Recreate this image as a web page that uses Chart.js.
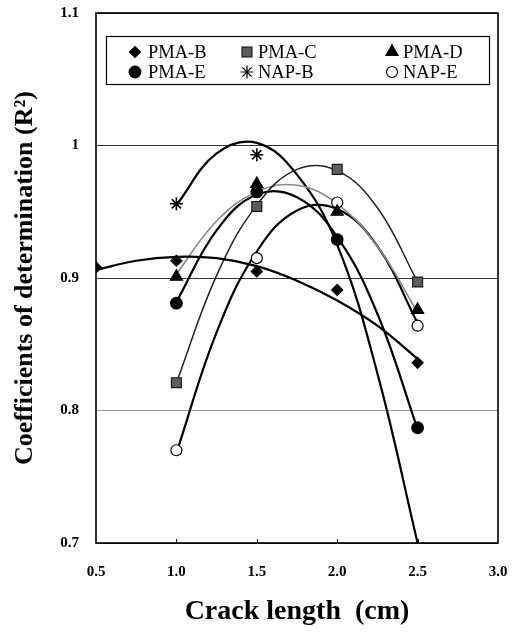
<!DOCTYPE html>
<html>
<head>
<meta charset="utf-8">
<script src="https://cdn.jsdelivr.net/npm/chart.js"></script>
<style>
  html, body { margin: 0; padding: 0; background: #fff; }
</style>
</head>
<body>
<canvas id="grafico" width="517" height="633"></canvas>
<script>
// measured points (crack length in cm, R2)
const crackB = [0.5, 1.0, 1.5, 2.0, 2.5]
const crack = [1.0, 1.5, 2.0, 2.5]
const crackNapB = [1.0, 1.5]

const pmaB = [0.908, 0.913, 0.905, 0.891, 0.836]
const pmaC = [0.821, 0.954, 0.982, 0.897]
const pmaD = [0.901, 0.971, 0.950, 0.876]
const pmaE = [0.881, 0.965, 0.929, 0.787]
const napB = [0.956, 0.993]
const napE = [0.770, 0.915, 0.957, 0.864]

// trend curves, every 0.25 cm
const trendXB = [0.5, 0.75, 1.0, 1.25, 1.5, 1.75, 2.0, 2.25, 2.5]
const trendX = [1.0, 1.25, 1.5, 1.75, 2.0, 2.25, 2.5]

const trendPmaB = [0.906, 0.913, 0.916, 0.915, 0.909, 0.898, 0.883, 0.864, 0.839]
const trendPmaC = [0.821, 0.902, 0.955, 0.982, 0.981, 0.953, 0.897]
const trendPmaD = [0.903, 0.943, 0.965, 0.970, 0.956, 0.924, 0.874]
const trendPmaE = [0.882, 0.936, 0.963, 0.961, 0.931, 0.873, 0.786]
const trendNapB = [0.955, 0.994, 1.002, 0.978, 0.925, 0.828, 0.700]
const trendNapE = [0.768, 0.859, 0.920, 0.951, 0.952, 0.924, 0.866]

const xTicks = [0.5, 1.0, 1.5, 2.0, 2.5, 3.0]
const yTicks = [0.7, 0.8, 0.9, 1.0, 1.1]

const serif = "'Liberation Serif', 'Times New Roman', serif"

const pares = (xs, ys) => xs.map((x, i) => ({ x: x, y: ys[i] }))

const marcadores = [
    { label: 'PMA-B', xs: crackB, ys: pmaB, style: 'rectRot', r: 5.5, fill: '#000', line: '#000' },
    { label: 'PMA-C', xs: crack, ys: pmaC, style: 'rect', r: 7, fill: '#5e5e5e', line: '#1a1a1a' },
    { label: 'PMA-D', xs: crack, ys: pmaD, style: 'triangle', r: 7, fill: '#000', line: '#000' },
    { label: 'PMA-E', xs: crack, ys: pmaE, style: 'circle', r: 5.8, fill: '#000', line: '#000' },
    { label: 'NAP-B', xs: crackNapB, ys: napB, style: 'star', r: 6.5, fill: '#000', line: '#000' },
    { label: 'NAP-E', xs: crack, ys: napE, style: 'circle', r: 5.5, fill: '#fff', line: '#000' }
]

const curvas = [
    { xs: trendXB, ys: trendPmaB, color: '#000', w: 2.2 },
    { xs: trendX, ys: trendPmaC, color: '#222', w: 1.5 },
    { xs: trendX, ys: trendPmaD, color: '#888', w: 1.6 },
    { xs: trendX, ys: trendPmaE, color: '#000', w: 2.2 },
    { xs: trendX, ys: trendNapB, color: '#000', w: 2.2 },
    { xs: trendX, ys: trendNapE, color: '#000', w: 2.2 }
]

const datasets = []
marcadores.forEach((m) => {
    datasets.push({
        label: m.label,
        data: pares(m.xs, m.ys),
        pointStyle: m.style,
        pointRadius: m.r,
        pointBackgroundColor: m.fill,
        pointBorderColor: m.line,
        pointBorderWidth: m.style === 'star' ? 1.6 : 1.2,
        showLine: false,
        order: 0
    })
})
curvas.forEach((c) => {
    datasets.push({
        data: pares(c.xs, c.ys),
        showLine: true,
        borderColor: c.color,
        borderWidth: c.w,
        tension: 0.4,
        pointRadius: 0,
        order: 1
    })
})

// plot frame plus small inner ticks on the x axis
const marco = {
    id: 'marco',
    afterDatasetsDraw(chart) {
        const { ctx, chartArea: a } = chart
        const sx = chart.scales.x
        ctx.save()
        ctx.strokeStyle = '#000'
        ctx.lineWidth = 1.6
        ctx.strokeRect(a.left, a.top, a.right - a.left, a.bottom - a.top)
        ctx.lineWidth = 1
        xTicks.slice(1, -1).forEach((v) => {
            const px = Math.round(sx.getPixelForValue(v)) + 0.5
            ctx.beginPath()
            ctx.moveTo(px, a.bottom)
            ctx.lineTo(px, a.bottom - 4)
            ctx.stroke()
        })
        ctx.restore()
    }
}

// legend drawn as a boxed 3x2 grid inside the plot
const leyenda = {
    id: 'leyenda',
    afterDraw(chart) {
        const ctx = chart.ctx
        const cols = [[135, 148], [247, 258], [392, 403]]
        const rows = [52, 72]
        ctx.save()
        ctx.fillStyle = '#fff'
        ctx.fillRect(106, 36, 383, 48)
        ctx.strokeStyle = '#000'
        ctx.lineWidth = 1.2
        ctx.strokeRect(106.5, 36.5, 383, 48)
        ctx.font = '18.5px ' + serif
        ctx.textBaseline = 'middle'
        marcadores.forEach((m, i) => {
            const c = cols[i % 3]
            const y = rows[Math.floor(i / 3)]
            ctx.fillStyle = m.fill
            ctx.strokeStyle = m.line
            Chart.helpers.drawPoint(ctx, {
                pointStyle: m.style,
                radius: m.r,
                rotation: 0,
                borderWidth: m.style === 'star' ? 1.6 : 1.2
            }, c[0], y)
            ctx.fillStyle = '#000'
            ctx.fillText(m.label, c[1], y + 1)
        })
        ctx.restore()
    }
}

new Chart('grafico', {
    type: 'scatter',
    data: { datasets: datasets },
    plugins: [marco, leyenda],
    options: {
        responsive: false,
        animation: false,
        layout: { padding: { top: 13, right: 19, left: 0, bottom: 0 } },
        plugins: {
            legend: { display: false },
            tooltip: { enabled: false }
        },
        scales: {
            x: {
                type: 'linear',
                min: 0.5,
                max: 3.0,
                afterBuildTicks: (s) => { s.ticks = xTicks.map((v) => ({ value: v })) },
                afterFit: (s) => {
                    s.height = 90
                    s.paddingLeft = 0
                    s.paddingRight = 0
                },
                grid: { display: false, drawTicks: false },
                border: { display: false },
                ticks: {
                    padding: 20,
                    color: '#000',
                    font: { family: serif, size: 15, weight: 'bold' },
                    callback: (v) => v.toFixed(1)
                },
                title: {
                    display: true,
                    text: 'Crack length  (cm)',
                    color: '#000',
                    font: { family: serif, size: 28, weight: 'bold' },
                    padding: { top: 0, bottom: 4 }
                }
            },
            y: {
                type: 'linear',
                min: 0.7,
                max: 1.1,
                afterBuildTicks: (s) => { s.ticks = yTicks.map((v) => ({ value: v })) },
                afterFit: (s) => {
                    s.width = 96
                    s.paddingTop = 0
                    s.paddingBottom = 0
                },
                grid: {
                    drawTicks: false,
                    lineWidth: 1,
                    color: (c) => (c.tick && Math.abs(c.tick.value - 0.8) < 1e-6) ? '#9a9a9a' : '#333'
                },
                border: { display: false },
                ticks: {
                    padding: 17,
                    color: '#000',
                    font: { family: serif, size: 15, weight: 'bold' },
                    callback: (v) => String(+v.toFixed(1))
                },
                title: {
                    display: true,
                    text: 'Coefficients of determination (R²)',
                    color: '#000',
                    font: { family: serif, size: 26, weight: 'bold' },
                    padding: { top: 10, bottom: 0 }
                }
            }
        }
    }
})
</script>
</body>
</html>
